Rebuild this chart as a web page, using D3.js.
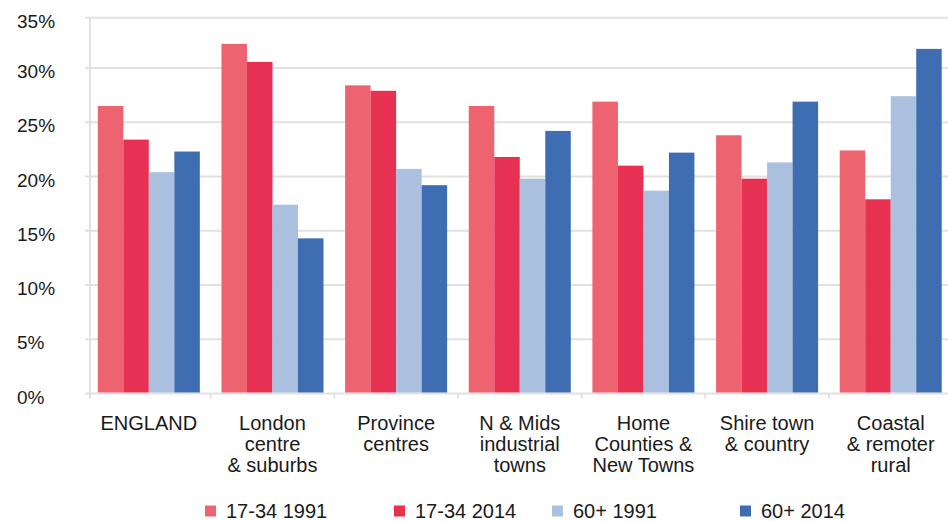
<!DOCTYPE html>
<html>
<head>
<meta charset="utf-8">
<script src="https://cdn.jsdelivr.net/npm/d3@7/dist/d3.min.js"></script>
<style>
  html, body { margin: 0; padding: 0; background: #fff; }
  svg text { font-family: "Liberation Sans", Arial, sans-serif; fill: #1a1a1a; }
</style>
</head>
<body>
<div id="chart"></div>
<script>
// data
const categories = ["ENGLAND", "London centre & suburbs", "Province centres",
  "N & Mids industrial towns", "Home Counties & New Towns", "Shire town & country",
  "Coastal & remoter rural"];
const categoryLines = [
  ["ENGLAND"],
  ["London", "centre", "& suburbs"],
  ["Province", "centres"],
  ["N & Mids", "industrial", "towns"],
  ["Home", "Counties &", "New Towns"],
  ["Shire town", "& country"],
  ["Coastal", "& remoter", "rural"]
];
const seriesNames = ["17-34 1991", "17-34 2014", "60+ 1991", "60+ 2014"];
const young1991 = [26.5, 32.4, 28.4, 26.5, 26.9, 23.8, 22.4];
const young2014 = [23.4, 30.6, 27.9, 21.8, 21.0, 19.8, 17.9];
const old1991   = [20.4, 17.4, 20.7, 19.8, 18.7, 21.3, 27.4];
const old2014   = [22.3, 14.3, 19.2, 24.2, 22.2, 26.9, 31.9];
const yTicks = [0, 5, 10, 15, 20, 25, 30, 35];

const seriesValues = [young1991, young2014, old1991, old2014];
const colors = ["#ED6470", "#E63153", "#AAC0DE", "#3F6DB1"];

const width = 948, height = 522;
const axisX = 90;

const svg = d3.select("#chart").append("svg")
  .attr("width", width)
  .attr("height", height);

// the original's top interval is slightly squashed, so a piecewise scale
const y = d3.scaleLinear()
  .domain([0, 30, 35])
  .range([393.5, 68, 17.7]);

const x0 = d3.scaleBand()
  .domain(categories)
  .range([87, 87 + 7 * 123.65])
  .paddingInner(0.175)
  .paddingOuter(0.0875);

const x1 = d3.scaleBand()
  .domain(seriesNames)
  .range([0, x0.bandwidth()]);

const color = d3.scaleOrdinal().domain(seriesNames).range(colors);

// gridlines
svg.append("g")
  .selectAll("line")
  .data(yTicks)
  .join("line")
  .attr("x1", axisX - 5)
  .attr("x2", width)
  .attr("y1", d => y(d))
  .attr("y2", d => y(d))
  .attr("stroke", "#e1e1e1")
  .attr("stroke-width", 2);

// y tick labels (left aligned in the original)
svg.append("g")
  .selectAll("text")
  .data(yTicks)
  .join("text")
  .attr("x", 17)
  .attr("y", d => y(d) + 10)
  .attr("font-size", 19)
  .text(d => d + "%");

// y axis line
svg.append("line")
  .attr("x1", axisX).attr("x2", axisX)
  .attr("y1", y(35)).attr("y2", y(0) + 5)
  .attr("stroke", "#e1e1e1")
  .attr("stroke-width", 2);

// x tick marks at the band edges
svg.append("g")
  .selectAll("line")
  .data(categories.slice(1))
  .join("line")
  .attr("x1", d => x0(d) - x0.step() * x0.paddingInner() / 2)
  .attr("x2", d => x0(d) - x0.step() * x0.paddingInner() / 2)
  .attr("y1", y(0))
  .attr("y2", y(0) + 5)
  .attr("stroke", "#e1e1e1")
  .attr("stroke-width", 2);

// bars
const rows = categories.map((c, i) => ({
  cat: c,
  vals: seriesNames.map((s, j) => ({ key: s, value: seriesValues[j][i] }))
}));

svg.append("g")
  .selectAll("g")
  .data(rows)
  .join("g")
  .attr("transform", d => `translate(${x0(d.cat)},0)`)
  .selectAll("rect")
  .data(d => d.vals)
  .join("rect")
  .attr("x", d => x1(d.key))
  .attr("y", d => y(d.value))
  .attr("width", x1.bandwidth())
  .attr("height", d => y(0) - 1 - y(d.value))
  .attr("fill", d => color(d.key));

// category labels
const labels = svg.append("g")
  .selectAll("text")
  .data(categories)
  .join("text")
  .attr("text-anchor", "middle")
  .attr("font-size", 20)
  .attr("x", d => x0(d) + x0.bandwidth() / 2)
  .attr("y", 429.5);

labels.selectAll("tspan")
  .data((d, i) => categoryLines[i])
  .join("tspan")
  .attr("x", function () { return d3.select(this.parentNode).attr("x"); })
  .attr("dy", (d, i) => i === 0 ? 0 : 21)
  .text(d => d);

// legend
const legendX = [205, 394, 552, 740];
const legend = svg.append("g")
  .selectAll("g")
  .data(seriesNames)
  .join("g")
  .attr("transform", (d, i) => `translate(${legendX[i]},505.5)`);

legend.append("rect")
  .attr("width", 11)
  .attr("height", 11)
  .attr("fill", d => color(d));

legend.append("text")
  .attr("x", 21)
  .attr("y", 12.8)
  .attr("font-size", 20)
  .text(d => d);
</script>
</body>
</html>
